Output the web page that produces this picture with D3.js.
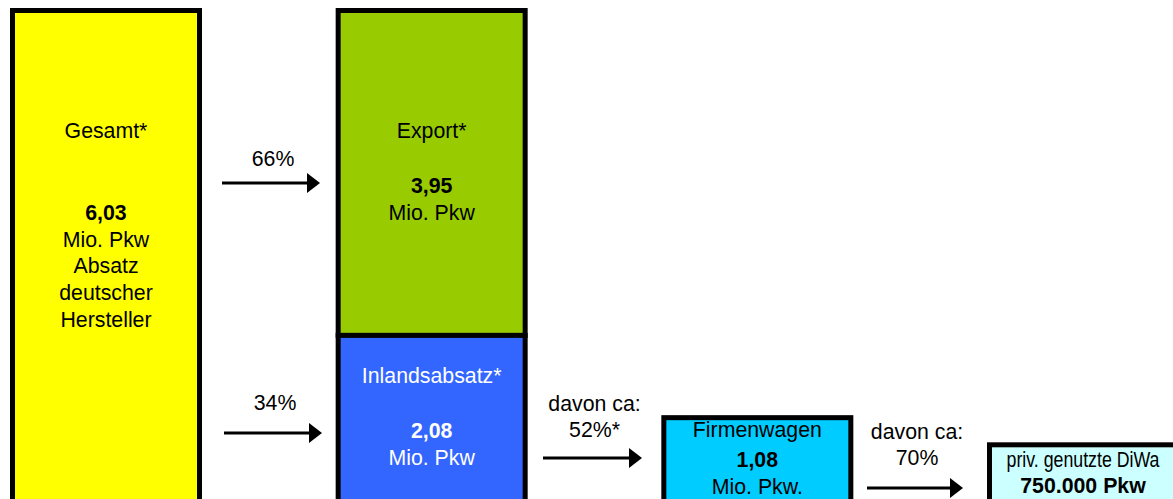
<!DOCTYPE html>
<html>
<head>
<meta charset="utf-8">
<script src="https://cdn.jsdelivr.net/npm/d3@7"></script>
<style>
  body { margin: 0; background: #fff; }
  svg { display: block; font-family: "Liberation Sans", Arial, sans-serif; }
</style>
</head>
<body>
<div id="chart"></div>
<script>
// data
var boxNames = ["Gesamt*", "Export*", "Inlandsabsatz*", "Firmenwagen", "priv. genutzte DiWa"]
var boxValues = [6.03, 3.95, 2.08, 1.08, 0.75]
var valueLabels = ["6,03", "3,95", "2,08", "1,08", "750.000 Pkw"]
var unitLabels = [["Mio. Pkw", "Absatz", "deutscher", "Hersteller"], ["Mio. Pkw"], ["Mio. Pkw"], ["Mio. Pkw."], []]
var shareLabels = [["66%"], ["34%"], ["davon ca:", "52%*"], ["davon ca:", "70%"]]

// layout
var column = [0, 1, 1, 2, 3]
var stackBase = [0, 2.08, 0, 0, 0]
var fills = ["#ffff00", "#99cc00", "#3366ff", "#00ccff", "#ccffff"]
var textColor = ["#000", "#000", "#fff", "#000", "#000"]
var nameY = [138, 138, 383, 437, 467]
var valueY = [220, 193, 438, 467, 493]
var arrowY = [183, 433, 458, 488]
var arrowFrom = [222, 224, 543, 867]
var arrowTo = [320, 322, 642, 963]
var shareY = [166, 410, 437, 465]

var W = 1173, H = 499

var svg = d3.select("#chart")
  .append("svg")
  .attr("width", W)
  .attr("height", H)

var y = d3.scaleLinear()
  .domain([0, 6.03])
  .range([506.5, 10.5])

var x = d3.scaleLinear()
  .domain([0, 3])
  .range([12.5, 989.5])
var boxW = 187

var items = boxNames.map(function (n, i) {
  return {name: n, value: boxValues[i], col: column[i], base: stackBase[i], i: i}
})

svg.selectAll("rect.box")
  .data(items)
  .enter()
  .append("rect")
  .attr("class", "box")
  .attr("x", function (d) { return x(d.col) })
  .attr("width", boxW)
  .attr("y", function (d) { return y(d.base + d.value) })
  .attr("height", function (d) { return y(d.base) - y(d.base + d.value) })
  .attr("fill", function (d) { return fills[d.i] })
  .attr("stroke", "#000")
  .attr("stroke-width", 5)

var fs = 21.3

items.forEach(function (d) {
  var cx = x(d.col) + boxW / 2
  var g = svg.append("g")
    .attr("fill", textColor[d.i])
    .attr("text-anchor", "middle")
    .style("font-size", fs + "px")
  var nameT = g.append("text")
    .attr("x", cx)
    .attr("y", nameY[d.i])
    .text(d.name)
  if (d.i === 4) {
    nameT.style("font-family", "'Liberation Sans Narrow', 'Arial Narrow', sans-serif")
      .attr("textLength", 153)
      .attr("lengthAdjust", "spacingAndGlyphs")
  }
  g.append("text")
    .attr("x", cx)
    .attr("y", valueY[d.i])
    .attr("font-weight", "bold")
    .text(valueLabels[d.i])
  unitLabels[d.i].forEach(function (u, k) {
    g.append("text")
      .attr("x", cx)
      .attr("y", valueY[d.i] + (k + 1) * 26.7)
      .text(u)
  })
})

// arrows
shareLabels.forEach(function (lines, i) {
  var x0 = arrowFrom[i], x1 = arrowTo[i], yy = arrowY[i]
  svg.append("line")
    .attr("x1", x0).attr("x2", x1 - 10)
    .attr("y1", yy).attr("y2", yy)
    .attr("stroke", "#000")
    .attr("stroke-width", 3)
  svg.append("path")
    .attr("d", "M" + (x1 - 13) + "," + (yy - 10) + "L" + x1 + "," + yy + "L" + (x1 - 13) + "," + (yy + 10) + "Z")
    .attr("fill", "#000")
  var cx = (x0 + x1) / 2 + 2
  lines.forEach(function (t, k) {
    svg.append("text")
      .attr("x", cx)
      .attr("y", shareY[i] - (lines.length - 1 - k) * 26.5)
      .attr("text-anchor", "middle")
      .style("font-size", fs + "px")
      .text(t)
  })
})
</script>
</body>
</html>
